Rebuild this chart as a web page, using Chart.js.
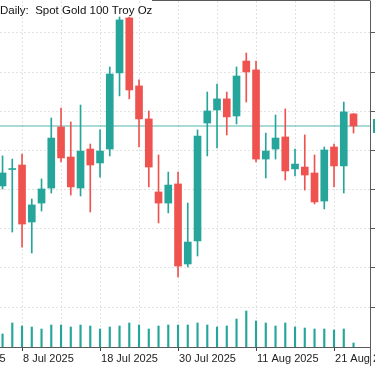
<!DOCTYPE html>
<html>
<head>
<meta charset="utf-8">
<script src="https://cdn.jsdelivr.net/npm/chart.js@4"></script>
<style>
  html, body { margin: 0; padding: 0; background: #fff; }
  canvas { display: block; }
</style>
</head>
<body>
<canvas id="chart" width="375" height="366"></canvas>
<script>
// daily candles
const dates = ['4 Jul 2025','7 Jul 2025','8 Jul 2025','9 Jul 2025','10 Jul 2025','11 Jul 2025',
  '14 Jul 2025','15 Jul 2025','16 Jul 2025','17 Jul 2025','18 Jul 2025',
  '21 Jul 2025','22 Jul 2025','23 Jul 2025','24 Jul 2025','25 Jul 2025',
  '28 Jul 2025','29 Jul 2025','30 Jul 2025','31 Jul 2025','1 Aug 2025',
  '4 Aug 2025','5 Aug 2025','6 Aug 2025','7 Aug 2025','8 Aug 2025',
  '11 Aug 2025','12 Aug 2025','13 Aug 2025','14 Aug 2025','15 Aug 2025',
  '18 Aug 2025','19 Aug 2025','20 Aug 2025','21 Aug 2025','22 Aug 2025','25 Aug 2025'];
const open  = [3327.3,3337.8,3340.7,3304.3,3316.4,3326.0,3365.0,3345.8,3326.0,3350.9,3342.0,
  3350.9,3399.5,3434.6,3391.2,3370.1,3323.5,3316.4,3328.6,3277.5,3292.2,
  3367.5,3375.8,3382.9,3372.0,3407.1,3401.4,3344.5,3350.9,3358.6,3338.2,
  3339.4,3335.6,3317.7,3352.2,3340.1,3373.3];
const high  = [3346.5,3344.5,3347.7,3319.0,3331.8,3370.7,3377.1,3368.2,3379.0,3354.1,3363.1,
  3403.3,3435.2,3435.2,3395.0,3375.2,3347.1,3336.2,3336.2,3316.4,3363.1,
  3387.3,3392.4,3387.3,3403.3,3412.2,3407.1,3361.1,3372.6,3376.5,3350.9,
  3359.9,3347.1,3352.2,3354.1,3380.9,3373.6];
const low   = [3325.4,3297.9,3288.3,3284.5,3311.3,3322.8,3342.6,3321.5,3320.9,3310.7,3333.0,
  3346.5,3384.8,3382.9,3352.2,3326.7,3303.7,3310.1,3269.2,3275.6,3282.6,
  3346.5,3351.6,3359.9,3366.9,3380.9,3342.6,3332.4,3344.5,3331.1,3333.7,
  3324.7,3315.8,3312.6,3326.7,3322.8,3361.1];
const close = [3335.6,3338.2,3303.0,3315.2,3325.4,3357.9,3345.2,3326.7,3349.6,3340.7,3349.6,
  3398.8,3433.3,3388.6,3370.1,3339.4,3316.4,3327.9,3276.2,3291.5,3359.2,
  3375.2,3382.9,3371.4,3397.5,3400.1,3344.5,3349.6,3357.9,3336.9,3341.3,
  3334.3,3317.1,3350.3,3340.1,3374.6,3365.6];
const volume = [130,240,210,200,180,220,220,200,220,210,180,200,210,240,220,180,210,220,220,220,
  240,220,200,210,280,360,260,240,210,240,200,190,180,180,170,180,40];

const priceTicks = [3250,3275,3300,3325,3350,3375,3400,3425];
const tickIndex  = [-6,2,10,18,26,34];
const tickLabels = ['26 Jun 2025','8 Jul 2025','18 Jul 2025','30 Jul 2025','11 Aug 2025','21 Aug 2025'];

const UP = '#26a69a', DOWN = '#ef5350';
const candleColor = close.map((c,i)=> c >= open[i] ? UP : DOWN);

function noPad(s){ s.paddingLeft = s.paddingRight = s.paddingTop = s.paddingBottom = 0; }

const frame = {
  id: 'frame',
  beforeDatasetsDraw(chart){
    const {ctx, chartArea:a, scales:{y}} = chart;
    const py = y.getPixelForValue(close[close.length-1]);
    ctx.save();
    ctx.strokeStyle = 'rgba(38,166,154,0.4)';
    ctx.lineWidth = 2;
    ctx.beginPath(); ctx.moveTo(a.left, py); ctx.lineTo(a.right, py); ctx.stroke();
    ctx.restore();
  },
  afterDraw(chart){
    const {ctx, chartArea:a, scales:{y}} = chart;
    const py = y.getPixelForValue(close[close.length-1]);
    ctx.save();
    ctx.strokeStyle = '#5a5a5a';
    ctx.lineWidth = 1;
    ctx.beginPath();
    ctx.moveTo(152, a.top - 0.5); ctx.lineTo(a.right + 0.5, a.top - 0.5);
    ctx.moveTo(a.right + 0.5, a.bottom); ctx.lineTo(a.right + 0.5, chart.height);
    ctx.stroke();
    ctx.fillStyle = UP;
    ctx.fillRect(a.right + 3, py - 7, 10, 14);
    ctx.fillStyle = '#111';
    ctx.font = '11.5px "Liberation Sans", Arial, sans-serif';
    ctx.textBaseline = 'alphabetic';
    ctx.fillText('Daily:  Spot Gold 100 Troy Oz', 0, 13.5);
    ctx.restore();
  }
};

new Chart(document.getElementById('chart'), {
  type: 'bar',
  data: {
    datasets: [
      { label: 'body', data: close.map((c,i)=>({x:i, y:[open[i], c]})),
        backgroundColor: candleColor, barThickness: 7, grouped: false, minBarLength: 1,
        yAxisID: 'y' },
      { label: 'wick', data: close.map((c,i)=>({x:i, y:[low[i], high[i]]})),
        backgroundColor: candleColor, barThickness: 1, grouped: false,
        yAxisID: 'y' },
      { label: 'volume', data: volume.map((v,i)=>({x:i, y:v})),
        backgroundColor: UP, barThickness: 1.5, grouped: false,
        yAxisID: 'v' }
    ]
  },
  options: {
    responsive: false,
    animation: false,
    layout: { padding: { top: 1, left: 0, right: 0, bottom: 0 } },
    plugins: { legend: { display: false }, tooltip: { enabled: false } },
    scales: {
      x: {
        type: 'linear', min: -0.26, max: 37.69, offset: false,
        afterBuildTicks(s){
          const t = [];
          for (let v = -6; v <= 37; v += 4) t.push({value: v});
          s.ticks = t;
        },
        afterFit(s){ s.height = 19; noPad(s); },
        ticks: {
          autoSkip: false, maxRotation: 0, align: 'start', labelOffset: 1, padding: 1,
          color: '#222', font: { family: '"Liberation Sans", Arial, sans-serif', size: 11 },
          callback(v){ const k = tickIndex.indexOf(v); return k < 0 ? '' : tickLabels[k]; }
        },
        grid: {
          offset: false, color: '#e2e2e2', tickLength: 4,
          tickColor: c => tickIndex.includes(c.tick && c.tick.value) ? '#444' : 'rgba(0,0,0,0)'
        },
        border: { color: '#5a5a5a', dash: [2, 2] }
      },
      y: {
        position: 'right', min: 3224.5, max: 3445.4,
        afterBuildTicks(s){ s.ticks = priceTicks.map(v => ({value: v})); },
        afterFit(s){ s.width = 5; noPad(s); },
        ticks: { display: false },
        grid: { color: '#e2e2e2', tickLength: 5, tickColor: '#5a5a5a' },
        border: { color: '#5a5a5a', dash: [2, 2] }
      },
      v: { display: false, min: 0, max: 3460 }
    }
  },
  plugins: [frame]
});
</script>
</body>
</html>
